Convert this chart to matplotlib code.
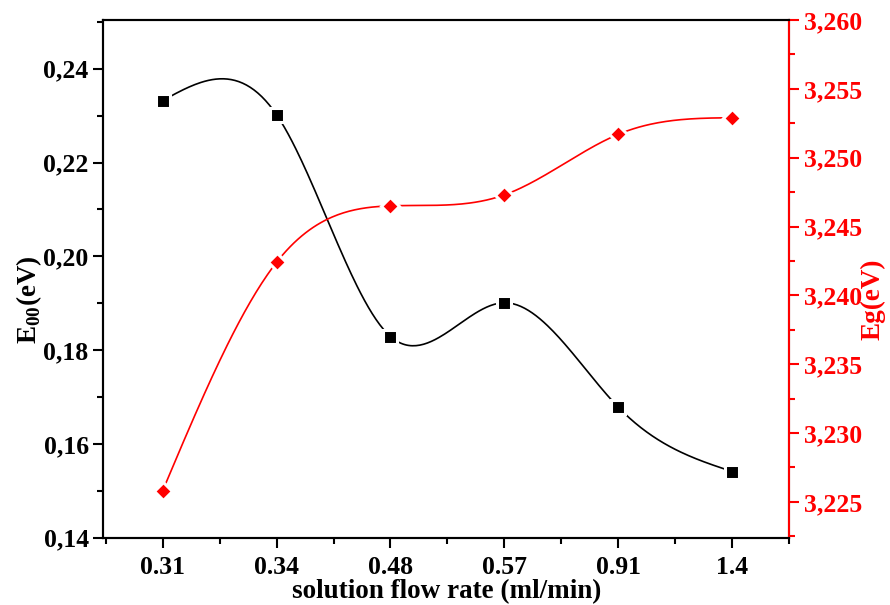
import numpy as np
import matplotlib
matplotlib.use("Agg")
import matplotlib.pyplot as plt
from matplotlib.ticker import FuncFormatter, MultipleLocator, AutoMinorLocator

# flow rate categories and the two measured quantities
flow_rates = ["0.31", "0.34", "0.48", "0.57", "0.91", "1.4"]
e00 = [0.2332, 0.2302, 0.1829, 0.1901, 0.1678, 0.1541]
eg = [3.2258, 3.2424, 3.2465, 3.2473, 3.2517, 3.2529]

plt.rcParams["font.family"] = "Liberation Serif"
plt.rcParams["font.weight"] = "bold"
plt.rcParams["mathtext.fontset"] = "custom"
plt.rcParams["mathtext.rm"] = "Liberation Serif:bold"
plt.rcParams["mathtext.bf"] = "Liberation Serif:bold"


# natural cubic spline through the points
def spline(x, y, n=300):
    x = np.asarray(x, float)
    y = np.asarray(y, float)
    m = len(x)
    h = np.diff(x)
    A = np.zeros((m, m))
    b = np.zeros(m)
    A[0, 0] = A[-1, -1] = 1
    for i in range(1, m - 1):
        A[i, i - 1] = h[i - 1]
        A[i, i] = 2 * (h[i - 1] + h[i])
        A[i, i + 1] = h[i]
        b[i] = 3 * ((y[i + 1] - y[i]) / h[i] - (y[i] - y[i - 1]) / h[i - 1])
    c = np.linalg.solve(A, b)
    xs = np.linspace(x[0], x[-1], n)
    ys = np.empty_like(xs)
    for k, xv in enumerate(xs):
        i = min(np.searchsorted(x, xv, side="right") - 1, m - 2)
        dx = xv - x[i]
        bi = (y[i + 1] - y[i]) / h[i] - h[i] * (2 * c[i] + c[i + 1]) / 3
        di = (c[i + 1] - c[i]) / (3 * h[i])
        ys[k] = y[i] + bi * dx + c[i] * dx ** 2 + di * dx ** 3
    return xs, ys


def comma(fmt):
    return FuncFormatter(lambda v, p: (fmt % v).replace(".", ","))


fig = plt.figure(figsize=(8.9, 6.05), dpi=100)
ax = fig.add_axes([0.1161, 0.1112, 0.7708, 0.8558])
ax2 = ax.twinx()

x = np.arange(len(flow_rates))

xs, ys = spline(x, e00)
ax.plot(xs, ys, color="black", lw=1.2, zorder=2)
ax.plot(x, e00, ls="none", marker="s", ms=9.5, mfc="black", mec="white", mew=2.2, zorder=3)

xs, ys = spline(x, eg)
ax2.plot(xs, ys, color="red", lw=1.2, zorder=2)
ax2.plot(x, eg, ls="none", marker="D", ms=9, mfc="red", mec="white", mew=2.2, zorder=3)

ax.set_xlim(-0.52, 5.5)
ax.set_ylim(0.14, 0.2504)
ax2.set_ylim(3.2224, 3.2600)

ax.set_xticks(x)
ax.set_xticklabels(flow_rates)
ax.xaxis.set_minor_locator(MultipleLocator(0.5))
ax.yaxis.set_major_locator(MultipleLocator(0.02))
ax.yaxis.set_minor_locator(AutoMinorLocator(2))
ax.yaxis.set_major_formatter(comma("%.2f"))
ax2.yaxis.set_major_locator(MultipleLocator(0.005))
ax2.yaxis.set_minor_locator(AutoMinorLocator(2))
ax2.yaxis.set_major_formatter(comma("%.3f"))

for a in (ax, ax2):
    for s in a.spines.values():
        s.set_linewidth(1.5)
ax2.spines["right"].set_color("red")

ax.tick_params(axis="both", which="major", direction="out", length=7, width=1.5,
               labelsize=18.5, top=False, right=False)
ax.tick_params(axis="x", which="major", pad=6)
ax.tick_params(axis="both", which="minor", direction="out", length=4, width=1.5,
               top=False, right=False)
ax2.tick_params(axis="y", which="major", direction="out", length=7, width=1.5,
                colors="red", labelsize=18.5)
ax2.tick_params(axis="y", which="minor", direction="out", length=4, width=1.5, colors="red")

ax.set_xlabel("solution flow rate (ml/min)", fontsize=19.5, fontweight="bold", labelpad=0)
ax.set_ylabel(r"E$_{\mathbf{00}}$(eV)", fontsize=19.5, fontweight="bold")
ax2.set_ylabel("Eg(eV)", fontsize=19.5, fontweight="bold", color="red")
ax.yaxis.set_label_coords(-0.086, 0.46)
ax2.yaxis.set_label_coords(1.103, 0.46)

fig.savefig("out.png", dpi=100)
